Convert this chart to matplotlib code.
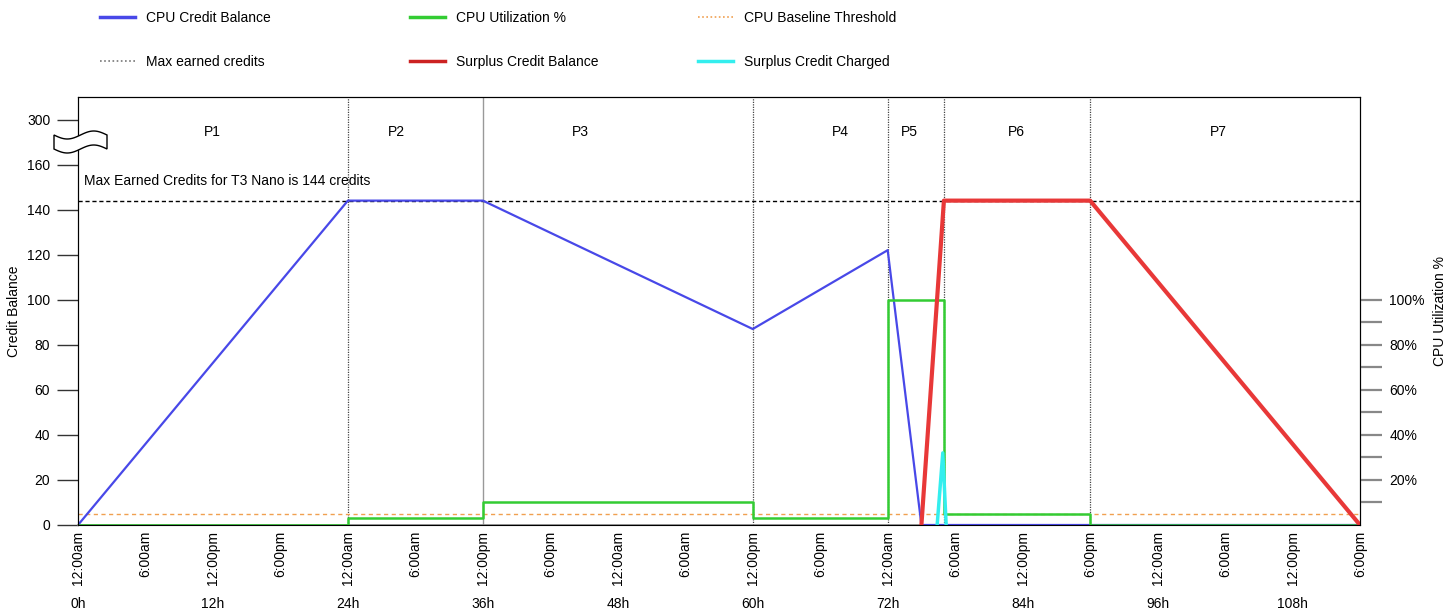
import matplotlib.pyplot as plt
import numpy as np
from matplotlib.lines import Line2D
from matplotlib.patches import Polygon

plt.rcParams['font.family'] = ['Liberation Sans', 'DejaVu Sans']
plt.rcParams['font.size'] = 10

# data (hours since start)
balance_hours = [0, 24, 36, 60, 72, 75, 90, 114]
balance_vals = [0, 144, 144, 87, 122, 0, 0, 0]

util_hours = [0, 24, 36, 60, 72, 77, 90, 114]
util_vals = [0, 3, 10, 3, 100, 5, 0, 0]

surplus_hours = [75, 77, 90, 114]
surplus_vals = [0, 144, 144, 0]

charged_hours = [76.4, 76.9, 77.2]
charged_vals = [0, 32, 0]

baseline = 5
max_credits = 144

event_hours = [24, 36, 60, 72, 77, 90]
period_names = ['P1', 'P2', 'P3', 'P4', 'P5', 'P6', 'P7']
period_pos = [11.9, 28.3, 44.7, 67.8, 73.9, 83.4, 101.4]

clock_ticks = list(range(0, 115, 6))
clock_labels = ['12:00am', '6:00am', '12:00pm', '6:00pm'] * 5
hour_ticks = [0, 12, 24, 36, 48, 60, 72, 84, 96, 108]
hour_labels = ['0h', '12h', '24h', '36h', '48h', '60h', '72h', '84h', '96h', '108h']

left_ticks = [0, 20, 40, 60, 80, 100, 120, 140, 160, 180]
left_labels = ['0', '20', '40', '60', '80', '100', '120', '140', '160', '300']
right_ticks = [10, 20, 30, 40, 50, 60, 70, 80, 90, 100]
right_labels = ['', '20%', '', '40%', '', '60%', '', '80%', '', '100%']

c_blue = '#4848e8'
c_green = '#33cc33'
c_orange = '#f0a050'
c_red = '#e83838'
c_cyan = '#33eeee'

fig = plt.figure(figsize=(14.5, 6.13), dpi=100)
ax = fig.add_axes([78 / 1450, 1 - 525 / 613, (1360 - 78) / 1450, (525 - 97) / 613])

# event markers
for h in event_hours:
    if h == 36:
        ax.axvline(h, color='#999999', lw=1, zorder=1)
    else:
        ax.axvline(h, color='#444444', lw=0.9, ls=(0, (1, 1)), zorder=1)

ax.axhline(max_credits, color='black', lw=1, ls=(0, (3, 2)), zorder=1)
ax.axhline(baseline, color=c_orange, lw=1, ls=(0, (3, 2.5)), zorder=1)

ax.plot(balance_hours, balance_vals, color=c_blue, lw=1.6, zorder=3)
ax.plot(util_hours, util_vals, color=c_green, lw=1.8, drawstyle='steps-post', zorder=4)
ax.plot(surplus_hours, surplus_vals, color=c_red, lw=3, zorder=5)
ax.plot(charged_hours, charged_vals, color=c_cyan, lw=2.5, zorder=6)

ax.text(0.5, 152.5, 'Max Earned Credits for T3 Nano is 144 credits', va='center', ha='left')
for name, pos in zip(period_names, period_pos):
    ax.text(pos, 174.6, name, ha='center', va='center')

ax.set_xlim(0, 114)
ax.set_ylim(0, 190)
ax.set_xticks(clock_ticks)
ax.set_xticklabels(clock_labels, rotation=90)
ax.tick_params(axis='x', length=0, pad=4)
ax.set_yticks(left_ticks)
ax.set_yticklabels(left_labels)
ax.tick_params(axis='y', length=15, width=1, color='#333333', pad=5)
ax.set_ylabel('Credit Balance')
ax.yaxis.set_label_coords(-57 / 1282, 0.5)
ax.spines['bottom'].set_color('#888888')
ax.spines['bottom'].set_linewidth(1.2)

for h, lab in zip(hour_ticks, hour_labels):
    ax.text(h, -0.185, lab, transform=ax.get_xaxis_transform(), ha='center', va='center')

ax2 = ax.twinx()
ax2.set_ylim(0, 190)
ax2.set_yticks(right_ticks)
ax2.set_yticklabels(right_labels)
ax2.tick_params(axis='y', length=16, width=1.6, color='#888888', pad=5)
ax2.set_ylabel('CPU Utilization %', labelpad=6)

# axis break symbol
xs = np.linspace(54, 107, 40)
top = 135 + 4 * np.sin(2 * np.pi * (xs - 54) / 53)
bot = top + 14
pts = np.concatenate([np.column_stack([xs, top]), np.column_stack([xs[::-1], bot[::-1]])])
pts_fig = np.column_stack([pts[:, 0] / 1450, 1 - pts[:, 1] / 613])
fig.patches.append(Polygon(pts_fig, closed=True, facecolor='white', edgecolor='black',
                           lw=1, transform=fig.transFigure, zorder=10))

# legends
def leg(handles, labels, x):
    lg = fig.legend(handles, labels, loc='upper left', bbox_to_anchor=(x / 1450, 1 - 11 / 613),
                    frameon=False, borderpad=0, borderaxespad=0, labelspacing=2.15,
                    handlelength=2.5, handletextpad=0.8)
    return lg

leg([Line2D([], [], color=c_blue, lw=2.5), Line2D([], [], color='#777777', lw=1.2, ls=(0, (1, 1.5)))],
    ['CPU Credit Balance', 'Max earned credits'], 100)
leg([Line2D([], [], color=c_green, lw=2.5), Line2D([], [], color='#cc2222', lw=2.5)],
    ['CPU Utilization %', 'Surplus Credit Balance'], 410)
leg([Line2D([], [], color=c_orange, lw=1.2, ls=(0, (1, 1.5))), Line2D([], [], color=c_cyan, lw=2.5)],
    ['CPU Baseline Threshold', 'Surplus Credit Charged'], 698)

fig.savefig('out.png', dpi=100)
